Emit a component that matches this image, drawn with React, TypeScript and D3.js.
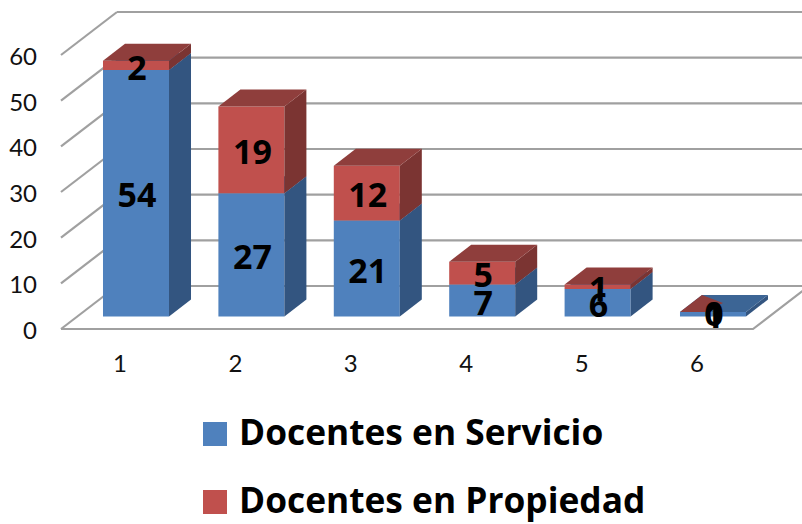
import { useRef, useEffect } from 'react';
import * as d3 from 'd3';

const categories = ['1', '2', '3', '4', '5', '6'];
const servicio = [54, 27, 21, 7, 6, 1];
const propiedad = [2, 19, 12, 5, 1, 0];
const yTicks = [0, 10, 20, 30, 40, 50, 60];
const legendLabels = ['Docentes en Servicio', 'Docentes en Propiedad'];

const width = 802;
const height = 524;
const font = 'Lato, Carlito, Calibri, sans-serif';
const boldFont = '"Open Sans", Lato, sans-serif';
const gridColor = '#a0a0a0';
const blue = { front: '#4f81bd', top: '#3c6595', side: '#335580' };
const red = { front: '#c0504d', top: '#8f3e3c', side: '#7b3432' };

// depth of the walls and of the bars, the chart is a fake 3d
const wall = { dx: 56, dy: -43 };
const bar = { dx: 22, dy: -17, lift: 12.5 };

export default function App() {
    const ref = useRef<SVGSVGElement>(null);

    useEffect(() => {
        if (!ref.current) return;

        const svg = d3.select(ref.current);
        svg.selectAll('*').remove();

        const xScale = d3.scaleBand<string>()
            .domain(categories)
            .range([78.3, 770.7])
            .paddingInner(0.428)
            .paddingOuter(0.214);

        const yScale = d3.scaleLinear()
            .domain([0, 60])
            .range([329, 55]);

        const floorRight = 753;

        // back wall + left wall gridlines
        const grid = svg.append('g')
            .attr('stroke', gridColor)
            .attr('stroke-width', 2.2)
            .attr('fill', 'none');

        yTicks.forEach(t => {
            const y = yScale(t);
            grid.append('path')
                .attr('d', `M${wall.dx + 61},${y + wall.dy}H${width}`);
            grid.append('path')
                .attr('d', `M61,${y}L${61 + wall.dx},${y + wall.dy}`);
        });

        // floor
        grid.append('path')
            .attr('d', `M61,${yScale(0)}H${floorRight}L${floorRight + wall.dx},${yScale(0) + wall.dy}`);

        const poly = (g: any, pts: number[][], fill: string) =>
            g.append('polygon')
                .attr('points', pts.map(p => p.join(',')).join(' '))
                .attr('fill', fill);

        const bars = svg.append('g');
        const labels: { x: number; y: number; text: number }[] = [];

        categories.forEach((c, i) => {
            const x0 = xScale(c) as number;
            const x1 = x0 + xScale.bandwidth();
            const segments = [
                { v0: 0, v1: servicio[i], color: blue },
                { v0: servicio[i], v1: servicio[i] + propiedad[i], color: red },
            ];

            segments.forEach(s => {
                const yBottom = yScale(s.v0) - bar.lift;
                const yTop = yScale(s.v1) - bar.lift;

                if (s.v1 === s.v0) {
                    // empty segment, only a sliver of its top shows through
                    poly(bars, [
                        [x0, yTop],
                        [x0 + bar.dx, yTop + bar.dy],
                        [x0 + bar.dx + 21, yTop + bar.dy + 8],
                        [x0 + 25, yTop],
                    ], s.color.top);
                } else {
                    poly(bars, [[x0, yBottom], [x1, yBottom], [x1, yTop], [x0, yTop]], s.color.front);
                    poly(bars, [
                        [x1, yBottom],
                        [x1 + bar.dx, yBottom + bar.dy],
                        [x1 + bar.dx, yTop + bar.dy],
                        [x1, yTop],
                    ], s.color.side);
                    poly(bars, [
                        [x0, yTop],
                        [x1, yTop],
                        [x1 + bar.dx, yTop + bar.dy],
                        [x0 + bar.dx, yTop + bar.dy],
                    ], s.color.top);
                }

                labels.push({
                    x: (x0 + x1) / 2 + 1,
                    y: (yBottom + yTop) / 2 + 2,
                    text: s.v1 - s.v0,
                });
            });
        });

        // y axis labels
        svg.append('g')
            .selectAll('text')
            .data(yTicks)
            .join('text')
            .attr('x', 37)
            .attr('y', d => yScale(d) + 10)
            .attr('text-anchor', 'end')
            .attr('font-family', font)
            .attr('font-size', 24)
            .attr('fill', '#111')
            .text(d => d);

        // x axis labels
        svg.append('g')
            .selectAll('text')
            .data(categories)
            .join('text')
            .attr('x', d => (xScale(d) as number) + xScale.bandwidth() / 2 - 16)
            .attr('y', 372)
            .attr('text-anchor', 'middle')
            .attr('font-family', font)
            .attr('font-size', 24)
            .attr('fill', '#111')
            .text(d => d);

        // data labels
        svg.append('g')
            .selectAll('text')
            .data(labels)
            .join('text')
            .attr('x', d => d.x)
            .attr('y', d => d.y)
            .attr('dy', '0.36em')
            .attr('text-anchor', 'middle')
            .attr('font-family', boldFont)
            .attr('font-weight', 700)
            .attr('font-size', 34)
            .attr('fill', '#000')
            .text(d => d.text);

        // legend
        const legend = svg.append('g');
        legendLabels.forEach((label, i) => {
            const top = 422 + i * 68;
            legend.append('rect')
                .attr('x', 203)
                .attr('y', top)
                .attr('width', 24)
                .attr('height', 24)
                .attr('fill', i === 0 ? blue.front : red.front);
            legend.append('text')
                .attr('x', 239)
                .attr('y', top + 23)
                .attr('font-family', boldFont)
                .attr('font-weight', 700)
                .attr('font-size', 35.3)
                .attr('fill', '#000')
                .text(label);
        });
    }, []);

    return (
        <svg
            ref={ref}
            width={width}
            height={height}
            style={{ position: 'absolute', left: 0, top: 0, background: '#fff' }}
        />
    );
}
